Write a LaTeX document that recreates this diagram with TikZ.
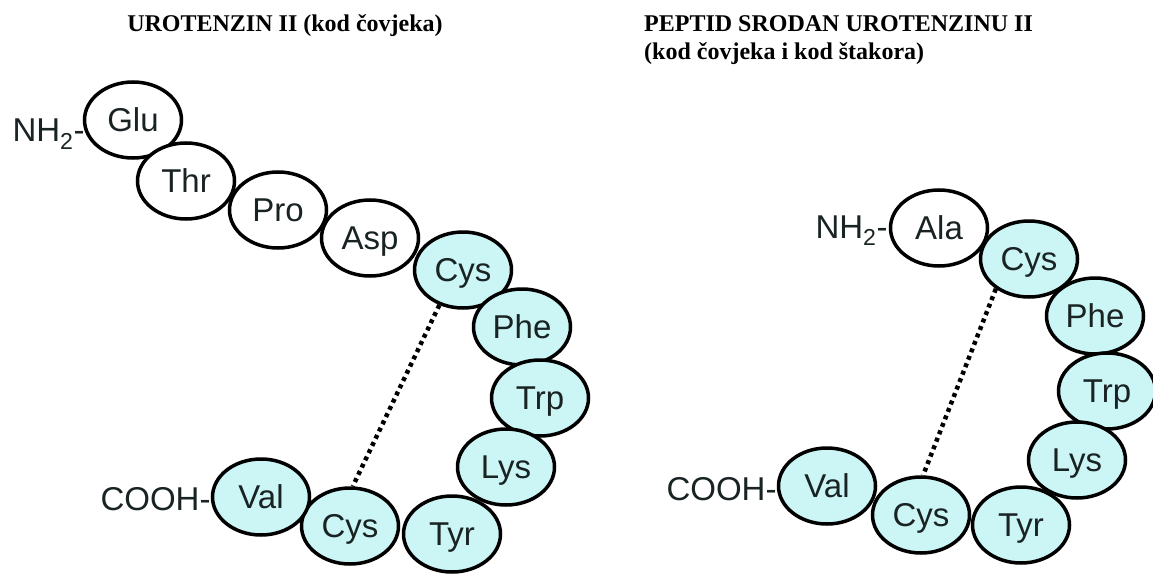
\documentclass[tikz,border=0pt]{standalone}
\usepackage{fontspec}
\setmainfont{Liberation Serif}
\newfontfamily\arialf{Liberation Sans}
\usetikzlibrary{shapes.geometric}
\definecolor{aacyan}{RGB}{204,245,245}
\definecolor{aatext}{RGB}{25,35,35}
\begin{document}
\begin{tikzpicture}[x=1pt,y=-1pt,
  aa/.style={ellipse, draw=black, line width=3.5pt, minimum width=97pt, minimum height=76pt,
    inner sep=0pt, text=aatext, text height=23.6pt, text depth=0pt,
    font=\arialf\fontsize{33}{36}\selectfont},
  aw/.style={aa, fill=white},
  ac/.style={aa, fill=aacyan},
  term/.style={text=aatext, inner sep=0pt, anchor=base east,
    font=\arialf\fontsize{33}{36}\selectfont},
  ttl/.style={inner sep=0pt, font=\bfseries\fontsize{24}{29}\selectfont},
  ssbond/.style={line width=4.5pt, dash pattern=on 4pt off 4pt}]
\useasboundingbox (0,0) rectangle (1153,575);

% titles
\node[ttl, anchor=base] (t1) at (285,32) {UROTENZIN II (kod čovjeka)};
\node[ttl, anchor=base west] (t2) at (644,32) {PEPTID SRODAN UROTENZINU II};
\node[ttl, anchor=base west] (t3) at (644,60) {(kod čovjeka i kod štakora)};

% left peptide: urotensin II
\node[aw] (lglu) at (133,120) {Glu};
\node[aw] (lthr) at (186,181) {Thr};
\node[aw] (lpro) at (278,210) {Pro};
\node[aw] (lasp) at (370,238) {Asp};
\node[ac] (lcysa) at (463,270) {Cys};
\node[ac] (lphe) at (522,327) {Phe};
\node[ac] (ltrp) at (540,398) {Trp};
\node[ac] (llys) at (506,467) {Lys};
\node[ac] (ltyr) at (452,534) {Tyr};
\node[ac] (lcysb) at (350,526) {Cys};
\node[ac] (lval) at (261,497) {Val};
\node[term] (lnh) at ([xshift=2pt,yshift=-22pt]lglu.west) {NH\textsubscript{2}-};
\node[term] (lcooh) at ([xshift=0pt,yshift=-13pt]lval.west) {COOH-};
\draw[ssbond] (lcysa.236) -- (lcysb.86);

% right peptide: urotensin II-related peptide
\node[aw] (rala) at (939,228) {Ala};
\node[ac] (rcysa) at (1029,259) {Cys};
\node[ac] (rphe) at (1095,316) {Phe};
\node[ac] (rtrp) at (1107,391) {Trp};
\node[ac] (rlys) at (1077,460) {Lys};
\node[ac] (rtyr) at (1021,525) {Tyr};
\node[ac] (rcysb) at (921,515) {Cys};
\node[ac] (rval) at (827,486) {Val};
\node[term] (rnh) at ([xshift=-1pt,yshift=-10pt]rala.west) {NH\textsubscript{2}-};
\node[term] (rcooh) at ([xshift=0pt,yshift=-14pt]rval.west) {COOH-};
\draw[ssbond] (rcysa.222) -- (rcysb.87);
\end{tikzpicture}
\end{document}
